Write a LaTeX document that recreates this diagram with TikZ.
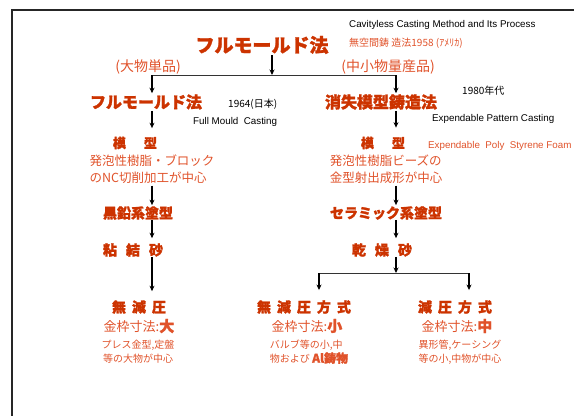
\documentclass[tikz,border=0pt]{standalone}
\usepackage{fontspec}
\setmainfont{Liberation Sans}
\newfontfamily\jp{Noto Sans CJK JP}[BoldFeatures={FakeBold=1.5}]
\usetikzlibrary{arrows.meta}
\definecolor{bred}{RGB}{204,51,0}
\definecolor{tred}{RGB}{224,82,42}
\newcommand\jg{\hspace{6pt}}
\begin{document}
\begin{tikzpicture}[x=1pt,y=-1pt,
  every node/.style={inner sep=0pt, anchor=center},
  head/.style={font=\jp\bfseries\fontsize{16}{16}\selectfont, text=bred},
  sub/.style={font=\jp\bfseries\fontsize{14}{14}\selectfont, text=bred},
  grp/.style={font=\jp\fontsize{14}{14}\selectfont, text=tred},
  desc/.style={font=\jp\fontsize{12.5}{17}\selectfont, text=tred, align=left},
  kin/.style={font=\jp\fontsize{13}{13}\selectfont, text=tred},
  small/.style={font=\jp\fontsize{10}{14}\selectfont, text=tred, align=center},
  en/.style={font=\fontsize{9.8}{11}\selectfont, text=black, anchor=west},
  jen/.style={en, font=\jp\fontsize{10}{11}\selectfont},
  arr/.style={-{Stealth[length=5.5pt,width=5pt]}, line width=1.5pt, draw=black},
  hl/.style={line width=1pt, draw=black!80},
]
\useasboundingbox (0,0) rectangle (574,416);
\draw[line width=1.5pt, draw=black!85] (574,10) -- (12,10) -- (12,416);

% column x positions and branch points
\coordinate (xL) at (152,0);
\coordinate (xR) at (396,0);
\coordinate (hM) at (272,75);
\coordinate (hL) at (152,75);
\coordinate (hR) at (396,75);
\coordinate (bM) at (396,273);
\coordinate (bL) at (319,273);
\coordinate (bR) at (469,273);

% title and groups
\node[head, font=\jp\bfseries\fontsize{19}{19}\selectfont] (title) at (262,45) {フルモールド法};
\node[grp] (lg) at (148,67) {(大物単品)};
\node[grp] (rg) at (388,67) {(中小物量産品)};
\node[en] (cav) at (349,25) {Cavityless Casting Method and Its Process};
\node[jen, text=tred] (mu) at (349,43) {無空間鋳 造法1958 (ｱﾒﾘｶ)};

% left column
\node[head] (fmL) at (146,102) {フルモールド法};
\node[jen] (y64) at (228,104) {1964(日本)};
\node[en] (fmc) at (193,122) {Full Mould\ \ Casting};
\node[sub, font=\jp\bfseries\fontsize{13}{13}\selectfont] (mkL) at (135,143) {模\hspace{18pt}型};
\node[desc] (dsL) at (152,169.5) {発泡性樹脂・ブロック\\ のNC切削加工が中心};
\node[sub] (coL) at (138,213) {黒鉛系塗型};
\node[sub] (sdL) at (133,250) {粘\hspace{9pt}結\hspace{9pt}砂};
\node[sub] (mgL) at (139,307) {無\jg 減\jg 圧};
\node[kin] (kL) at (139,326) {金枠寸法:{\bfseries\fontsize{15}{15}\selectfont 大}};
\node[small] (pL) at (138,352) {プレス金型,定盤\\等の大物が中心};

% right column
\node[head] (fmR) at (381,102) {消失模型鋳造法};
\node[jen] (y80) at (462,91) {1980年代};
\node[en] (epc) at (432,119) {Expendable Pattern Casting};
\node[en, text=tred] (eps) at (428,146) {Expendable\ \ Poly\ \ Styrene Foam};
\node[sub, font=\jp\bfseries\fontsize{13}{13}\selectfont] (mkR) at (383,143) {模\hspace{18pt}型};
\node[desc] (dsR) at (386,169.5) {発泡性樹脂ビーズの\\ 金型射出成形が中心};
\node[sub] (coR) at (386,213) {セラミック系塗型};
\node[sub] (sdR) at (382,250) {乾\hspace{9pt}燥\hspace{9pt}砂};

% bottom branches
\node[sub] (mgM) at (304,307) {無\jg 減\jg 圧\jg 方\jg 式};
\node[kin] (kM) at (307,326) {金枠寸法:{\bfseries\fontsize{15}{15}\selectfont 小}};
\node[small, align=left] (pM) at (309,352) {バルブ等の小,中\\物および {\bfseries\fontsize{12}{14}\selectfont Al鋳物}};
\node[sub] (mgR) at (455,307) {減\jg 圧\jg 方\jg 式};
\node[kin] (kR) at (457,326) {金枠寸法:{\bfseries\fontsize{15}{15}\selectfont 中}};
\node[small] (pR) at (460,352) {異形管,ケーシング\\等の小,中物が中心};

% connectors
\draw[arr, shorten <=1pt] (title.south -| hM) -- (hM);
\draw[hl] (hL) -- (hR);
\draw[arr, shorten >=1pt] (hL) -- (fmL.north -| xL);
\draw[arr, shorten >=1pt] (hR) -- (fmR.north -| xR);
\draw[arr, shorten <=1pt, shorten >=8.5pt] (fmL.south -| xL) -- (mkL.north -| xL);
\draw[arr, shorten <=1pt, shorten >=9pt] (fmR.south -| xR) -- (mkR.north -| xR);
\draw[arr, shorten <=1.5pt, shorten >=1pt] (dsL.south -| xL) -- (coL.north -| xL);
\draw[arr, shorten <=1.5pt, shorten >=1pt] (dsR.south -| xR) -- (coR.north -| xR);
\draw[arr, shorten >=5pt] (coL.south -| xL) -- (sdL.north -| xL);
\draw[arr, shorten >=5pt] (coR.south -| xR) -- (sdR.north -| xR);
\draw[arr, shorten >=9pt] (sdL.south -| xL) -- (mgL.north -| xL);
\draw[arr] (sdR.south -| xR) -- (bM);
\draw[hl] (bL) -- (bR);
\draw[arr, shorten >=10pt] (bL) -- (mgM.north -| bL);
\draw[arr, shorten >=10pt] (bR) -- (mgR.north -| bR);
\end{tikzpicture}
\end{document}
